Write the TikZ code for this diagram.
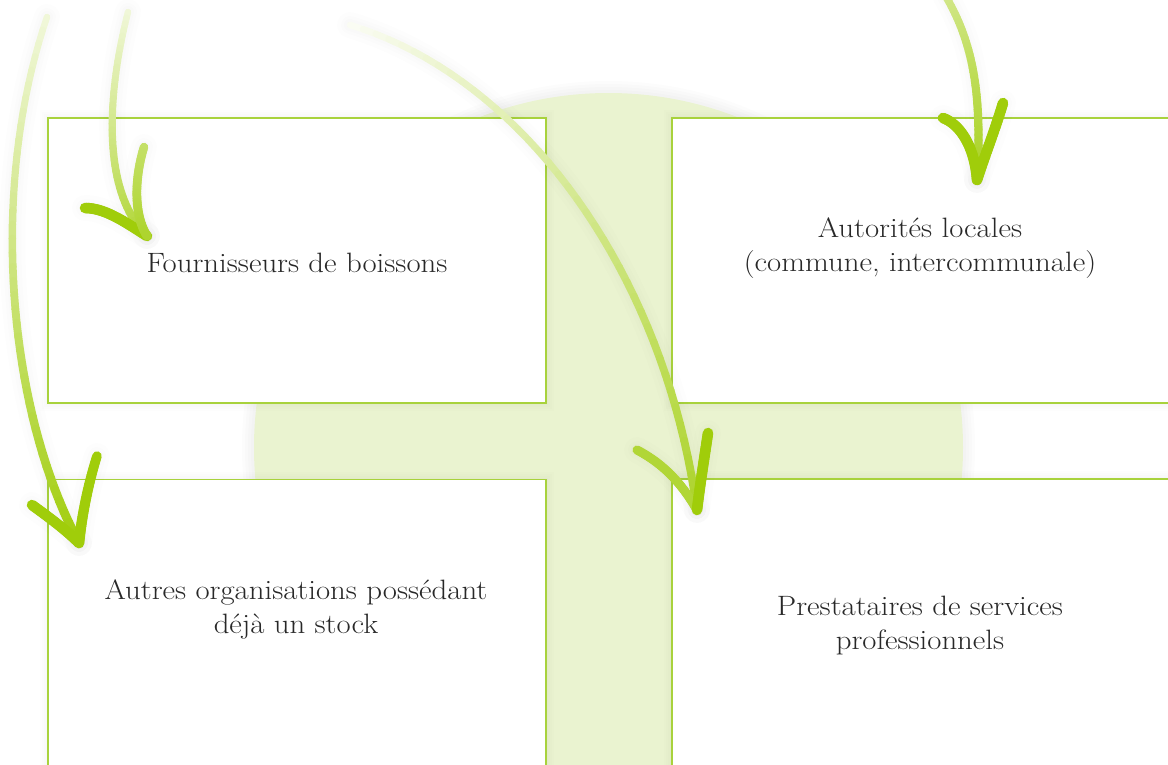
\documentclass[tikz,border=0pt]{standalone}
\usepackage{fontspec}
\setmainfont[FakeStretch=1.1]{Latin Modern Roman}
\definecolor{leaf}{RGB}{160,205,10}
\definecolor{disc}{RGB}{234,243,208}
\definecolor{edge}{RGB}{168,210,60}
\definecolor{ink}{RGB}{40,40,40}
\pgfdeclarelayer{bg}
\pgfsetlayers{bg,main}

% A cubic stroke whose colour and width change from one end to the other.
% #1 start, #2 #3 controls, #4 end, #5/#6 leaf share at start/end, #7/#8 width at start/end
\newcommand\gsN{40}
\newcommand\gsM{39}
\newcommand\gradstroke[8]{%
  \path #1 .. controls #2 and #3 .. #4
    foreach \k [evaluate=\k as \gt using \k/\gsN] in {0,...,\gsN} { coordinate[pos=\gt] (gs-\k) };
  \foreach \k [evaluate=\k as \mix using {#5+(#6-#5)*\k/\gsM},
               evaluate=\k as \lw using {#7+(#8-#7)*\k/\gsM},
               evaluate=\k as \kn using {int(\k+1)}] in {0,...,\gsM}
    \draw[line width=\lw pt, line cap=round, leaf!\mix!white] (gs-\k) -- (gs-\kn);
}

\begin{document}
\begin{tikzpicture}[x=1pt,y=-1pt,
  box/.style={draw=edge, line width=1.2pt, fill=white, inner sep=0pt, outer sep=0pt},
  boxtext/.style={font=\fontsize{28}{34}\selectfont, text=ink, anchor=base, inner sep=0pt},
  halo/.style={line width=#1, black, opacity=0.009, line cap=round},
]
\useasboundingbox (0,0) rectangle (1168,764);
\clip (0,0) rectangle (1168,764);

% the four boxes
\node[box, minimum width=498pt, minimum height=285pt] (b1) at (297,260.5) {};
\node[box, minimum width=508pt, minimum height=285pt] (b2) at (926,260.5) {};
\node[box, minimum width=498pt, minimum height=300pt] (b3) at (297,629.5) {};
\node[box, minimum width=508pt, minimum height=301pt] (b4) at (926,629.5) {};

% disc behind the boxes, with soft shadows
\begin{pgfonlayer}{bg}
  \foreach \w in {3,6,9,12}
    \fill[black, opacity=0.01] (608.5,447.5) circle[radius=354.5pt+\w pt];
  \fill[disc] (608.5,447.5) circle[radius=354.5pt];
  \foreach \b in {b1,b2,b3,b4}
    \foreach \w in {2,4,6,8}
      \fill[black, opacity=0.009] ([shift={(-\w,-\w)}]\b.north west) rectangle ([shift={(\w,\w)}]\b.south east);
\end{pgfonlayer}

% labels
\node[boxtext] (t1)  at (297,272.5) {Fournisseurs de boissons};
\node[boxtext] (t2a) at (920,237) {Autorités locales};
\node[boxtext] (t2b) at (920,271) {(commune, intercommunale)};
\node[boxtext] (t3a) at (296,599) {Autres organisations possédant};
\node[boxtext] (t3b) at (296,633) {déjà un stock};
\node[boxtext] (t4a) at (920,615) {Prestataires de services};
\node[boxtext] (t4b) at (920,649) {professionnels};

% hand-drawn arrows: end points
\coordinate (a1s) at (47,17);   \coordinate (a1t) at (79,543);
\coordinate (a1l) at (32,505);  \coordinate (a1r) at (97,456);
\coordinate (a2s) at (128,12);  \coordinate (a2t) at (147,236);
\coordinate (a2l) at (85,208);  \coordinate (a2r) at (144,147);
\coordinate (a3s) at (350,25);  \coordinate (a3t) at (697,510);
\coordinate (a3l) at (637,450); \coordinate (a3r) at (708,433);
\coordinate (a4s) at (945,-5);  \coordinate (a4t) at (977,180);
\coordinate (a4l) at (943,118); \coordinate (a4r) at (1003,103);

% soft shadows of the arrows
\foreach \w in {12pt,18pt,26pt}{
  \draw[halo=\w] (a1s) .. controls (-12,190) and (8,410) .. (a1t);
  \draw[halo=\w] (a1l) .. controls (50,518) and (66,530) .. (a1t);
  \draw[halo=\w] (a1r) .. controls (88,485) and (82,515) .. (a1t);
  \draw[halo=\w] (a2s) .. controls (108,90) and (100,190) .. (a2t);
  \draw[halo=\w] (a2l) .. controls (105,208) and (125,222) .. (a2t);
  \draw[halo=\w] (a2r) .. controls (134,180) and (134,215) .. (a2t);
  \draw[halo=\w] (a3s) .. controls (525,78) and (665,275) .. (a3t);
  \draw[halo=\w] (a3l) .. controls (660,462) and (680,480) .. (a3t);
  \draw[halo=\w] (a3r) .. controls (704,460) and (700,485) .. (a3t);
  \draw[halo=\w] (a4s) .. controls (975,45) and (982,100) .. (a4t);
  \draw[halo=\w] (a4l) .. controls (962,125) and (975,150) .. (a4t);
  \draw[halo=\w] (a4r) .. controls (995,130) and (985,155) .. (a4t);
}

% arrow 1: long left arrow into the lower left box
\gradstroke{(a1s)}{(-12,190)}{(8,410)}{(a1t)}{16}{98}{6.5}{9}
\gradstroke{(a1l)}{(50,518)}{(66,530)}{(a1t)}{100}{100}{10.5}{10.5}
\gradstroke{(a1r)}{(88,485)}{(82,515)}{(a1t)}{100}{100}{9.5}{10.5}

% arrow 2: short arrow into the upper left box
\gradstroke{(a2s)}{(108,90)}{(100,190)}{(a2t)}{16}{82}{6.5}{8}
\gradstroke{(a2l)}{(105,208)}{(125,222)}{(a2t)}{100}{100}{10.5}{10.5}
\gradstroke{(a2r)}{(134,180)}{(134,215)}{(a2t)}{62}{85}{8.5}{9}

% arrow 3: long arc into the lower right box
\gradstroke{(a3s)}{(525,78)}{(665,275)}{(a3t)}{5}{85}{6.5}{8}
\gradstroke{(a3l)}{(660,462)}{(680,480)}{(a3t)}{82}{82}{9}{9}
\gradstroke{(a3r)}{(704,460)}{(700,485)}{(a3t)}{100}{100}{10.5}{10.5}

% arrow 4: arrow into the upper right box
\gradstroke{(a4s)}{(975,45)}{(982,100)}{(a4t)}{48}{88}{7.5}{8.5}
\gradstroke{(a4l)}{(962,125)}{(975,150)}{(a4t)}{100}{100}{10.5}{10.5}
\gradstroke{(a4r)}{(995,130)}{(985,155)}{(a4t)}{100}{100}{10.5}{10.5}
\end{tikzpicture}
\end{document}
